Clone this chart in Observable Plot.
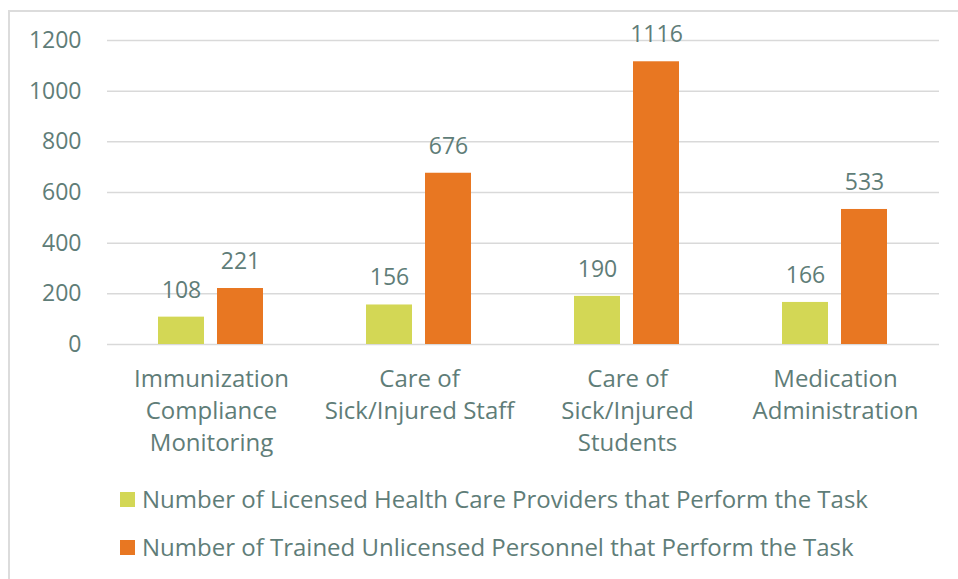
<!DOCTYPE html>
<html>
<head>
<meta charset="utf-8">
<script src="https://cdn.jsdelivr.net/npm/d3@7"></script>
<script src="https://cdn.jsdelivr.net/npm/@observablehq/plot@0.6"></script>
<style>
  html, body { margin: 0; padding: 0; background: #fff; }
  body { width: 958px; height: 579px; position: relative; overflow: hidden; font-family: "Open Sans", sans-serif; color: #5f7d78; }
  #frame { position: absolute; left: 8px; top: 10px; width: 960px; height: 580px; border-left: 2px solid #dcdcdc; border-top: 2px solid #dcdcdc; }
  #chart { position: absolute; left: 0; top: 0; }
  .legend { position: absolute; left: 120px; display: flex; align-items: center; font-size: 24px; line-height: 30px; white-space: nowrap; }
  .legend .sw { width: 15px; height: 15px; margin-right: 7px; flex: none; }
</style>
</head>
<body>
<div id="frame"></div>
<div id="chart"></div>
<div id="legend"></div>
<script>
const categories = [
  "Immunization\nCompliance\nMonitoring",
  "Care of\nSick/Injured Staff",
  "Care of\nSick/Injured\nStudents",
  "Medication\nAdministration"
];
const seriesNames = [
  "Number of Licensed Health Care Providers that Perform the Task",
  "Number of Trained Unlicensed Personnel that Perform the Task"
];
const licensed = [108, 156, 190, 166];
const unlicensed = [221, 676, 1116, 533];
const yTicks = [0, 200, 400, 600, 800, 1000, 1200];
const colors = ["#d3d755", "#e87722"];

const data = [];
categories.forEach((c, i) => {
  data.push({category: c, series: seriesNames[0], value: licensed[i]});
  data.push({category: c, series: seriesNames[1], value: unlicensed[i]});
});

const chart = Plot.plot({
  width: 958,
  height: 460,
  marginLeft: 106,
  marginRight: 18,
  marginTop: 40,
  marginBottom: 116,
  style: {fontFamily: "'Open Sans', sans-serif", fontSize: "23px", color: "#5f7d78", background: "transparent", overflow: "visible"},
  fx: {domain: categories, padding: 0, label: null, axis: null},
  x: {domain: seriesNames, paddingInner: 0.218, paddingOuter: 0.861, axis: null},
  y: {domain: [0, 1200], label: null, axis: null},
  color: {domain: seriesNames, range: colors},
  marks: [
    Plot.gridY(yTicks, {stroke: "#d9d9d9", strokeOpacity: 1, strokeWidth: 1.5}),
    Plot.axisY(yTicks, {tickSize: 0, tickPadding: 26, label: null, tickFormat: d => String(d), fill: "#5f7d78"}),
    Plot.barY(data, {fx: "category", x: "series", y: "value", fill: "series"}),
    Plot.text(data, {fx: "category", x: "series", y: "value", text: d => String(d.value), dy: -27, lineAnchor: "middle", fill: "#5f7d78"}),
    Plot.axisFx({anchor: "bottom", tickSize: 0, tickPadding: 20, lineHeight: 1.33, fontSize: 24, label: null, fill: "#5f7d78"})
  ]
});
document.getElementById("chart").appendChild(chart);

const legend = document.getElementById("legend");
const tops = [484, 532];
seriesNames.forEach((s, i) => {
  const row = document.createElement("div");
  row.className = "legend";
  row.style.top = tops[i] + "px";
  const sw = document.createElement("span");
  sw.className = "sw";
  sw.style.background = colors[i];
  const t = document.createElement("span");
  t.textContent = s;
  row.appendChild(sw);
  row.appendChild(t);
  legend.appendChild(row);
});
</script>
</body>
</html>
